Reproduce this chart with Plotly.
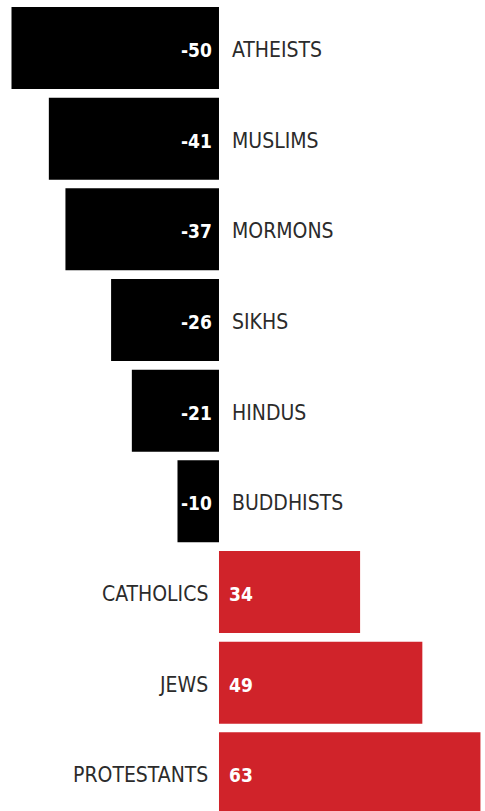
import plotly.graph_objects as go

groups = ["ATHEISTS", "MUSLIMS", "MORMONS", "SIKHS", "HINDUS", "BUDDHISTS",
          "CATHOLICS", "JEWS", "PROTESTANTS"]
values = [-50, -41, -37, -26, -21, -10, 34, 49, 63]

NEG_COLOR = "#000000"
POS_COLOR = "#D0232A"
colors = [NEG_COLOR if v < 0 else POS_COLOR for v in values]

FONT = "DejaVu Sans Condensed, Liberation Sans Narrow, Roboto, sans-serif"

fig = go.Figure(go.Bar(
    x=values, y=groups, orientation="h",
    marker=dict(color=colors, line=dict(width=0)),
    hoverinfo="skip",
))

annotations = []
for g, v in zip(groups, values):
    if v < 0:
        annotations.append(dict(x=0, y=g, text=g, xanchor="left", yanchor="middle",
                                xshift=11, yshift=-2, showarrow=False,
                                font=dict(family=FONT, size=21, color="#2b2b2b")))
        annotations.append(dict(x=0, y=g, text="<b>%d</b>" % v, xanchor="right", yanchor="middle",
                                xshift=-5, yshift=-2, showarrow=False,
                                font=dict(family=FONT, size=19, color="#ffffff")))
    else:
        annotations.append(dict(x=0, y=g, text=g, xanchor="right", yanchor="middle",
                                xshift=-9, yshift=-2, showarrow=False,
                                font=dict(family=FONT, size=21, color="#2b2b2b")))
        annotations.append(dict(x=0, y=g, text="<b>%d</b>" % v, xanchor="left", yanchor="middle",
                                xshift=8, yshift=-2, showarrow=False,
                                font=dict(family=FONT, size=19, color="#ffffff")))

fig.update_layout(
    width=485, height=811,
    margin=dict(l=0, r=0, t=0, b=0),
    paper_bgcolor="white", plot_bgcolor="white",
    bargap=0.0956,
    showlegend=False,
    xaxis=dict(range=[-52.77, 64.1], visible=False, fixedrange=True),
    yaxis=dict(range=[8.415, -0.5294], visible=False, type="category", fixedrange=True),
    annotations=annotations,
)

fig.write_html("out.html", config={"displayModeBar": False})
